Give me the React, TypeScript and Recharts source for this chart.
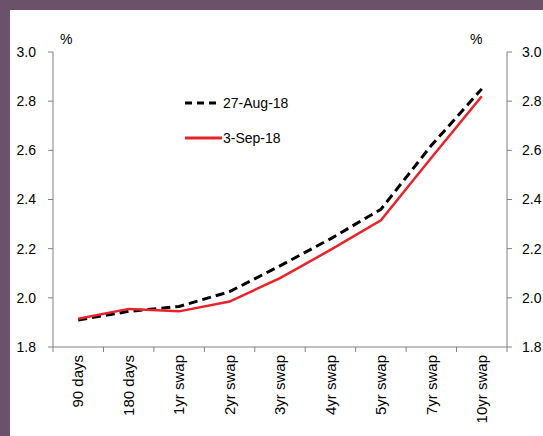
import React from "react";
import { LineChart, Line, XAxis, YAxis, Legend } from "recharts";

const tenors = ["90 days", "180 days", "1yr swap", "2yr swap", "3yr swap", "4yr swap", "5yr swap", "7yr swap", "10yr swap"];
const aug27 = [1.91, 1.945, 1.965, 2.025, 2.13, 2.24, 2.36, 2.62, 2.85];
const sep3 = [1.915, 1.955, 1.945, 1.985, 2.08, 2.195, 2.315, 2.57, 2.82];
const yTicks = [1.8, 2.0, 2.2, 2.4, 2.6, 2.8, 3.0];

const data = tenors.map((t, i) => ({ tenor: t, aug: aug27[i], sep: sep3[i] }));

const FONT = "'Liberation Sans', Arial, sans-serif";
const AXIS = "#808080";

// category label, plus tick marks on the band edges (like Excel)
function TenorTick(props: any) {
  const { x, y, payload, index, visibleTicksCount, width } = props;
  const half = payload.offset || width / visibleTicksCount / 2;
  const last = index === visibleTicksCount - 1;
  return (
    <g>
      <line x1={x - half} y1={y} x2={x - half} y2={y + 5} stroke={AXIS} />
      {last && <line x1={x + half} y1={y} x2={x + half} y2={y + 5} stroke={AXIS} />}
      <text
        x={x}
        y={y + 8}
        transform={`rotate(-90, ${x}, ${y + 8})`}
        textAnchor="end"
        dy="0.35em"
        fontSize={15}
        fontFamily={FONT}
        fill="#000"
      >
        {payload.value}
      </text>
    </g>
  );
}

function LegendBox(props: any) {
  const items = props.payload || [];
  return (
    <div style={{ fontFamily: FONT, fontSize: 14, color: "#000" }}>
      {items.map((it: any, i: number) => (
        <div key={i} style={{ display: "flex", alignItems: "center", height: 35 }}>
          <svg width={38} height={6}>
            <line
              x1={0}
              y1={3}
              x2={i === 0 ? 32 : 37}
              y2={3}
              stroke={it.color}
              strokeWidth={3}
              strokeDasharray={i === 0 ? "7 5" : undefined}
            />
          </svg>
          <span>{it.value}</span>
        </div>
      ))}
    </div>
  );
}

export default function App() {
  return (
    <div style={{ position: "absolute", left: 0, top: 0, width: 543, height: 436, background: "#6b5169" }}>
      <div style={{ position: "absolute", left: 10, top: 10, width: 533, height: 426, background: "#fff" }}>
        <span style={{ position: "absolute", left: 50, top: 21, fontFamily: FONT, fontSize: 14 }}>%</span>
        <span style={{ position: "absolute", left: 460, top: 21, fontFamily: FONT, fontSize: 14 }}>%</span>
        <LineChart width={533} height={426} data={data} margin={{ top: 42, right: 0, bottom: 0, left: 8 }}>
          <XAxis
            dataKey="tenor"
            scale="band"
            height={89}
            stroke={AXIS}
            tickLine={false}
            tickSize={0}
            tickMargin={0}
            interval={0}
            tick={<TenorTick />}
          />
          <YAxis
            yAxisId="left"
            domain={[1.8, 3.0]}
            ticks={yTicks}
            tickFormatter={(v: number) => v.toFixed(1)}
            width={35}
            tickSize={5}
            tickMargin={12}
            stroke={AXIS}
            tick={{ fill: "#000", fontSize: 14, fontFamily: FONT }}
          />
          <YAxis
            yAxisId="right"
            orientation="right"
            domain={[1.8, 3.0]}
            ticks={yTicks}
            tickFormatter={(v: number) => v.toFixed(1)}
            width={36}
            tickSize={5}
            tickMargin={10}
            stroke={AXIS}
            tick={{ fill: "#000", fontSize: 14, fontFamily: FONT }}
          />
          <Legend
            layout="vertical"
            verticalAlign="middle"
            align="center"
            content={<LegendBox />}
            wrapperStyle={{ position: "absolute", left: 175, top: 75, width: 160 }}
          />
          <Line
            yAxisId="left"
            dataKey="aug"
            name="27-Aug-18"
            stroke="#000"
            strokeWidth={3}
            strokeDasharray="9 5"
            dot={false}
            isAnimationActive={false}
          />
          <Line
            yAxisId="right"
            dataKey="sep"
            name="3-Sep-18"
            stroke="#e8232a"
            strokeWidth={2.5}
            dot={false}
            isAnimationActive={false}
          />
        </LineChart>
      </div>
    </div>
  );
}
